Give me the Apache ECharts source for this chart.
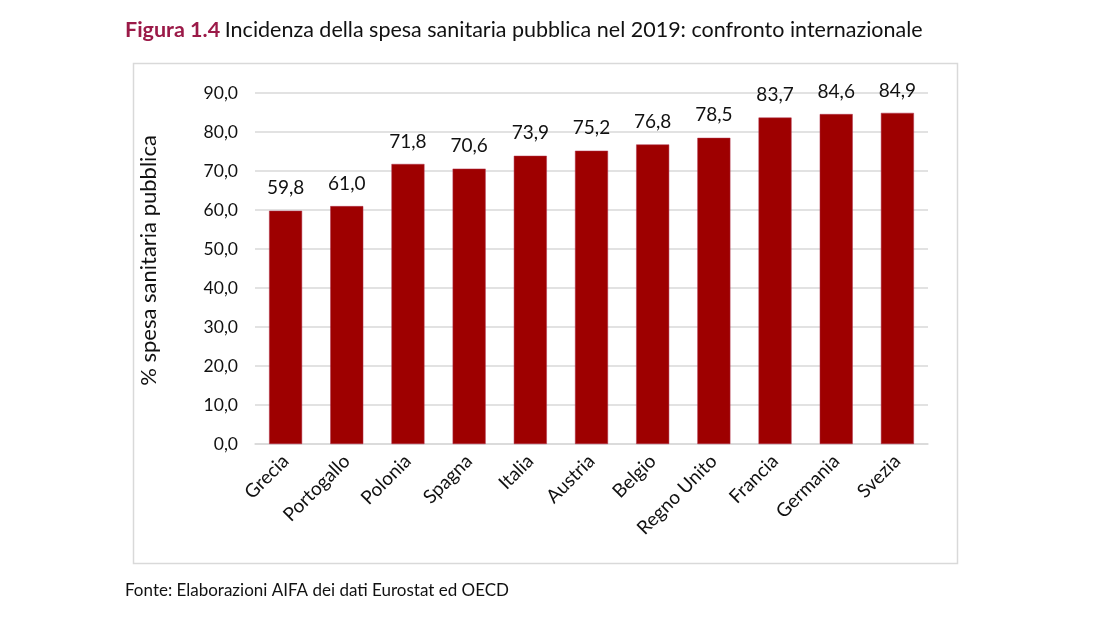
<!DOCTYPE html>
<html>
<head>
<meta charset="utf-8">
<script src="https://cdn.jsdelivr.net/npm/echarts@6/dist/echarts.min.js"></script>
<style>
html,body{margin:0;padding:0;background:#fff;}
#chart{width:1106px;height:624px;}
</style>
</head>
<body>
<div id="chart"></div>
<script>
const categories = ['Grecia','Portogallo','Polonia','Spagna','Italia','Austria','Belgio','Regno Unito','Francia','Germania','Svezia'];
const values = [59.8, 61.0, 71.8, 70.6, 73.9, 75.2, 76.8, 78.5, 83.7, 84.6, 84.9];
const yTicks = { min: 0, max: 90, interval: 10 };
const titleBold = 'Figura 1.4';
const titleRest = 'Incidenza della spesa sanitaria pubblica nel 2019: confronto internazionale';
const yName = '% spesa sanitaria pubblica';
const source = 'Fonte: Elaborazioni AIFA dei dati Eurostat ed OECD';

const FONT = 'Lato';
const fmt = v => Number(v).toFixed(1).replace('.', ',');

const chart = echarts.init(document.getElementById('chart'));
chart.setOption({
  backgroundColor: '#ffffff',
  animation: false,
  textStyle: { fontFamily: FONT },
  title: {
    left: 120, top: 14,
    text: '{a|' + titleBold + '} {b|' + titleRest + '}',
    textStyle: {
      fontWeight: 'normal',
      rich: {
        a: { fontFamily: FONT, fontSize: 21.5, fontWeight: 'bold', color: '#9B1A48' },
        b: { fontFamily: FONT, fontSize: 21.5, fontWeight: 'normal', color: '#111111' }
      }
    }
  },
  graphic: [
    { type: 'rect', shape: { x: 133.5, y: 63.5, width: 824, height: 500 },
      style: { fill: 'none', stroke: '#D9D9D9', lineWidth: 1.5 }, silent: true },
    { type: 'text', left: 125, top: 582,
      style: { text: source, fontFamily: FONT, fontSize: 17, fill: '#111111' } }
  ],
  grid: { left: 255, right: 178, top: 93, bottom: 180, containLabel: false },
  xAxis: {
    type: 'category',
    data: categories,
    axisLine: { show: true, lineStyle: { color: '#D9D9D9', width: 1.5 } },
    axisTick: { show: false },
    axisLabel: { rotate: 45, margin: 14, fontFamily: FONT, fontSize: 19, color: '#111111', interval: 0 }
  },
  yAxis: {
    type: 'value',
    min: yTicks.min, max: yTicks.max, interval: yTicks.interval,
    name: yName,
    nameLocation: 'middle',
    nameGap: 95,
    nameTextStyle: { fontFamily: FONT, fontSize: 22, color: '#111111', padding: [0, 0, 0, 16] },
    axisLine: { show: false },
    axisTick: { show: false },
    splitLine: { lineStyle: { color: '#D9D9D9', width: 1.5 } },
    axisLabel: { formatter: fmt, margin: 17, fontFamily: FONT, fontSize: 17.5, color: '#111111' }
  },
  series: [{
    type: 'bar',
    data: values,
    barWidth: 33,
    itemStyle: { color: '#9E0000', borderColor: '#B0304A', borderWidth: 0.5 },
    label: {
      show: true, position: 'top', distance: 13,
      formatter: p => fmt(p.value),
      fontFamily: FONT, fontSize: 19, color: '#111111'
    }
  }]
});
</script>
</body>
</html>
